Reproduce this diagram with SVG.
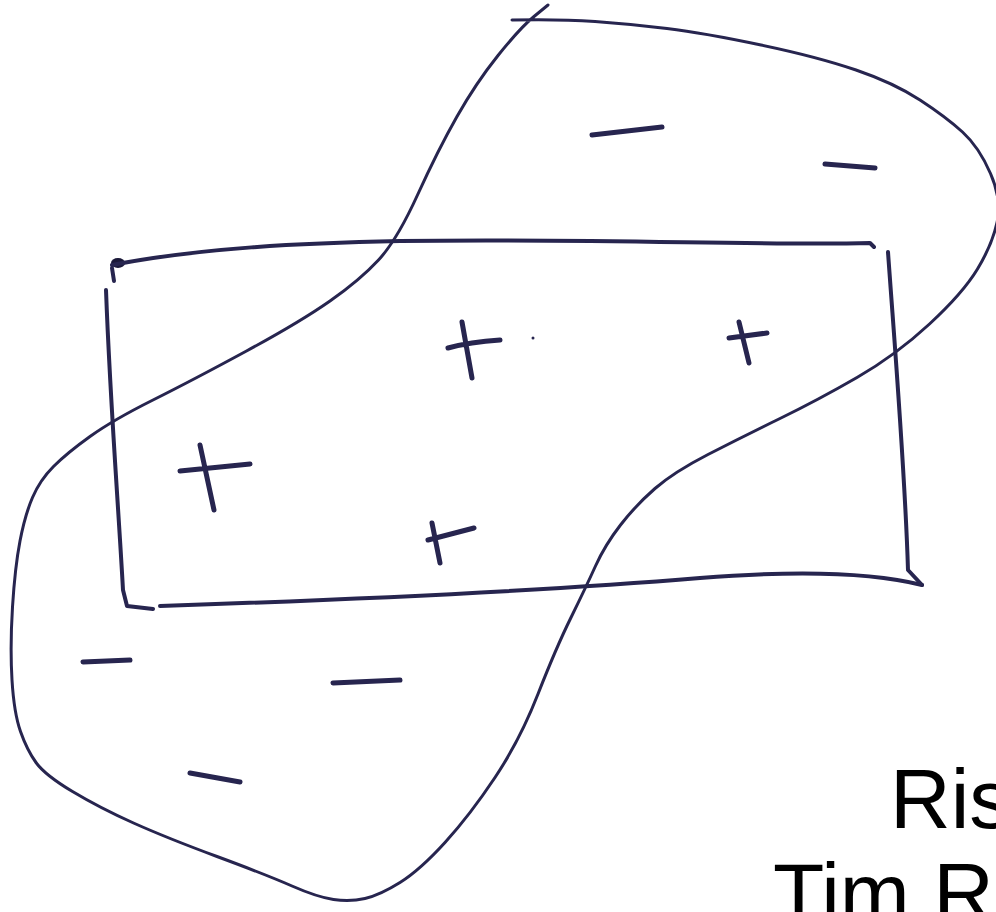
<svg xmlns="http://www.w3.org/2000/svg" width="996" height="912" viewBox="0 0 996 912">
<style>
.ink{fill:none;stroke:#27254f;stroke-linecap:round;stroke-linejoin:round}
.blob{stroke-width:3}
.box{stroke-width:4}
.mark{stroke-width:5}
.lbl{font-family:"Liberation Sans",Arial,sans-serif;font-size:84px;fill:#000}
</style>
<rect width="996" height="912" fill="#fff"/>
<g id="region">
<path class="ink blob" d="M512,20 Q560,19 595,21.5 Q630,24 667,28.5 Q704,33 761,45 Q818,57 856,70 Q894,83 920,100 Q946,117 962.5,132 Q979,147 990.5,173.5 Q1002,200 997,222.5 Q992,245 977.5,269 Q963,293 929.5,324 Q896,355 857,377.5 Q818,400 780,418.5 Q742,437 708,454.5 Q674,472 655,488.5 Q636,505 620.5,525 Q605,545 595.5,566 Q586,587 571,617.5 Q556,648 538,694 Q520,740 495,777.5 Q470,815 445,842.5 Q420,870 400,882.5 Q380,895 365,898.5 Q350,902 333.5,899.5 Q317,897 292,886 Q267,875 217,856.5 Q167,838 133.5,823 Q100,808 72.5,791.5 Q45,775 36,762.5 Q27,750 20.5,731.5 Q14,713 12,680 Q10,647 12.5,607 Q15,567 20,541 Q25,515 32.5,497.5 Q40,480 53.5,466.5 Q67,453 90,436.5 Q113,420 153,400 Q193,380 246.5,351 Q300,322 330,301 Q360,280 378.5,260 Q397,240 417.5,195 Q438,150 457,116.5 Q476,83 498,55.5 Q520,28 534,16.5 L548,5"/>
</g>
<g id="box">
<ellipse cx="118" cy="263" rx="7" ry="5" fill="#1a1838"/>
<path class="ink box" d="M112,265 C200,248 300,243 400,241 C600,238 760,246 870,243 L874,247"/>
<path class="ink box" d="M112,268 L114,281"/>
<path class="ink box" d="M106,290 C110,400 118,500 123,590 L127,606 L153,609"/>
<path class="ink box" d="M160,606 C400,598 580,588 700,578 C800,570 870,572 922,585"/>
<path class="ink box" d="M888,252 C895,350 905,470 908,570 L922,585"/>
</g>
<g id="positives">
<path class="ink mark" d="M462,322 L472,378 M448,348 Q470,342 500,340"/>
<path class="ink mark" d="M739,322 L749,363 M729,338 L767,333"/>
<path class="ink mark" d="M432,523 L440,563 M428,540 L474,528"/>
<path class="ink mark" d="M200,445 L214,510 M180,471 L250,464"/>
<circle cx="533" cy="338" r="1.5" fill="#27254f"/>
</g>
<g id="negatives">
<path class="ink mark" d="M592,135 L662,127"/>
<path class="ink mark" d="M825,164 L875,168"/>
<path class="ink mark" d="M83,662 L130,660"/>
<path class="ink mark" d="M333,683 L400,680"/>
<path class="ink mark" d="M190,773 L240,782"/>
</g>
<g id="label">
<text class="lbl" x="890" y="828">Ris</text>
<text class="lbl" x="773" y="922">Tim R</text>
</g>
</svg>
